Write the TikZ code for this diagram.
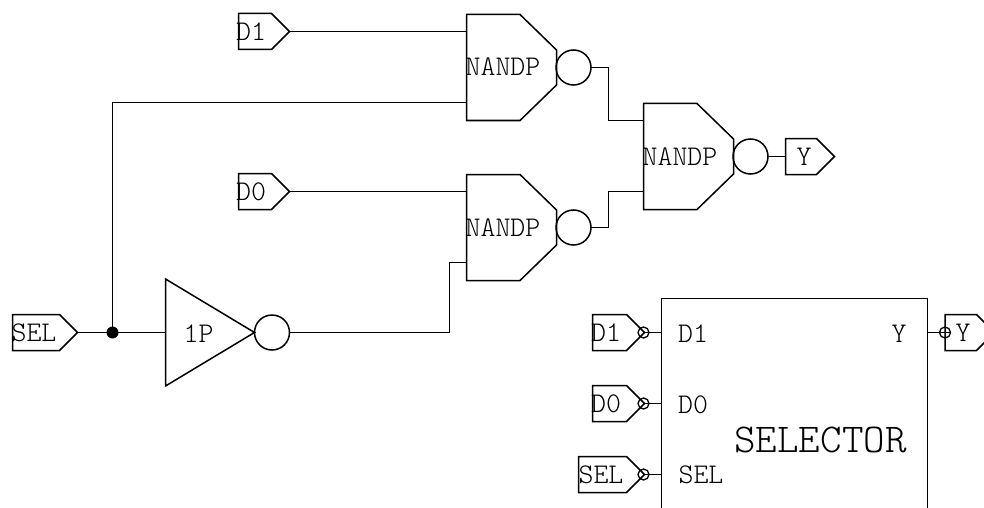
\documentclass[tikz,border=0pt]{standalone}
\usepackage{fontspec}
\setmonofont{Latin Modern Mono Light}
\begin{document}
\begin{tikzpicture}[x=1pt,y=-1pt,line join=miter,line width=1.5pt,
  lbl/.style={inner sep=0pt,outer sep=0pt,anchor=base,font=\fontsize{28.5}{29}\selectfont\ttfamily},
  bubble/.style={circle,draw,inner sep=0pt,outer sep=0pt,minimum size=35pt},
  smallbub/.style={circle,draw,inner sep=0pt,outer sep=0pt,minimum size=11pt,line width=1.3pt},
  dotn/.style={circle,fill=black,inner sep=0pt,outer sep=0pt,minimum size=12pt},
  pics/nandgate/.style={code={
    \draw (0.5,0.5) -- (54,0.5) -- (90.5,36) -- (90.5,71) -- (54,106.5) -- (0.5,106.5) -- cycle;
    \coordinate (-in1) at (0.5,17.5);
    \coordinate (-in2) at (0.5,88.5);
    \node[bubble] (-bub) at (107.5,53.5) {};
    \node[lbl] (-label) at (37,62) {NANDP};
  }},
  pics/tag/.style n args={3}{code={
    \draw (-#1,-18) -- (-18,-18) -- (0,0) -- (-18,18) -- (-#1,18) -- cycle;
    \coordinate (-tip) at (0,0);
    \coordinate (-left) at (-#1,0);
    \node[lbl] (-label) at (-#3,9) {#2};
  }},
  pics/invgate/.style={code={
    \draw (0,-53.5) -- (89,0) -- (0,53.5) -- cycle;
    \coordinate (-in) at (0,0);
    \node[bubble] (-bub) at (106.5,0) {};
    \node[lbl] (-label) at (33,9.5) {1P};
  }}]
\useasboundingbox (0,0) rectangle (984,508);
\clip (0,0) rectangle (984,508);

% Schematic
\pic (gA) at (466,14) {nandgate};
\pic (gB) at (466,174) {nandgate};
\pic (gC) at (643,103) {nandgate};
\pic (inv) at (165.5,332.5) {invgate};
\pic (tD1) at (289.5,31.5) {tag={51}{D1}{38.5}};
\pic (tD0) at (289.5,191.5) {tag={51}{D0}{38.5}};
\pic (tSEL) at (77.5,332.5) {tag={65}{SEL}{43.5}};
\pic (tY) at (834.5,156.5) {tag={49}{Y}{30.5}};
\node[dotn] (junc) at (112.5,332.5) {};

\draw (tD1-tip) -- (gA-in1);
\draw (tD0-tip) -- (gB-in1);
\draw (tSEL-tip) -- (inv-in);
\draw (junc.center) |- (gA-in2);
\draw (inv-bub.east) -| (449.5,262.5) -- (gB-in2);
\draw (gA-bub.east) -- (608.5,67.5) -- (608.5,120.5) -- (gC-in1);
\draw (gB-bub.east) -- (608.5,227.5) -- (608.5,191.5) -- (gC-in2);
\draw (gC-bub.east) -- (tY-left);

% Selector symbol
\node[draw,rectangle,inner sep=0pt,outer sep=0pt,minimum width=266pt,minimum height=240pt,anchor=north west] (sel) at (661.5,298.5) {};
\coordinate (pD1) at (sel.west |- 0,332.5);
\coordinate (pD0) at (sel.west |- 0,403.5);
\coordinate (pSEL) at (sel.west |- 0,474.5);
\coordinate (pY) at (sel.east |- 0,332.5);
\node[lbl] (lD1) at (693,342) {D1};
\node[lbl] (lD0) at (693,413) {D0};
\node[lbl] (lSEL) at (701,483.5) {SEL};
\node[lbl] (lY) at (899,342) {Y};
\node[lbl,font=\fontsize{41}{42}\selectfont\ttfamily] (lTitle) at (820.5,452) {SELECTOR};

\pic (sD1) at (644.5,332.5) {tag={52}{D1}{38.5}};
\pic (sD0) at (644.5,403.5) {tag={52}{D0}{38.5}};
\pic (sSEL) at (644.5,474.5) {tag={66}{SEL}{43.5}};
\pic (sY) at (994.5,332.5) {tag={49.5}{Y}{31.5}};
\node[smallbub] (bD1) at (643.5,332.5) {};
\node[smallbub] (bD0) at (643.5,403.5) {};
\node[smallbub] (bSEL) at (643.5,474.5) {};
\node[smallbub] (bY) at (945,332.5) {};
\draw (bD1.center) -- (pD1);
\draw (bD0.center) -- (pD0);
\draw (bSEL.center) -- (pSEL);
\draw (pY) -- (bY.east);
\end{tikzpicture}
\end{document}
